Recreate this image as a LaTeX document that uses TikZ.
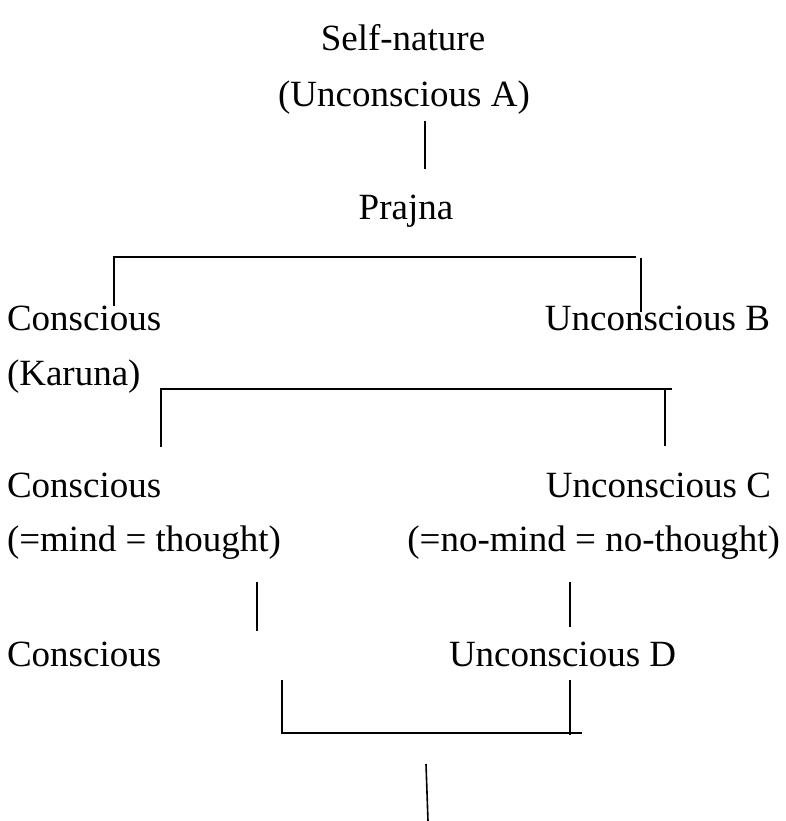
\documentclass[tikz,border=0pt]{standalone}
\usepackage{fontspec}
\setmainfont{Liberation Serif}
\begin{document}
\begin{tikzpicture}[x=1pt,y=-1pt,
  lbl/.style={inner sep=0pt,outer sep=0pt,font=\fontsize{37}{40}\selectfont},
  conn/.style={line width=1.6pt,line cap=butt}]
\useasboundingbox[fill=white] (0,0) rectangle (786,821);
% texts
\node[lbl,anchor=base] (sn) at (403,51) {Self-nature};
\node[lbl,anchor=base] (ua) at (404,107) {(Unconscious A)};
\node[lbl,anchor=base] (pr) at (406,219) {Prajna};
\node[lbl,anchor=base west] (c1) at (7,330) {Conscious};
\node[lbl,anchor=base east] (ub) at (770,330) {Unconscious B};
\node[lbl,anchor=base west] (ka) at (7,385) {(Karuna)};
\node[lbl,anchor=base west] (c2) at (7,497) {Conscious};
\node[lbl,anchor=base east] (uc) at (771,497) {Unconscious C};
\node[lbl,anchor=base west] (m1) at (7,551) {(=mind = thought)};
\node[lbl,anchor=base east] (m2) at (780,551) {(=no-mind = no-thought)};
\node[lbl,anchor=base west] (c3) at (7,666) {Conscious};
\node[lbl,anchor=base west] (ud) at (449,666) {Unconscious D};
% connector end points
\coordinate (a1) at (425,121); \coordinate (a2) at (425,169);
\coordinate (t1) at (113,257); \coordinate (t2) at (636,257);
\coordinate (tl) at (114,306); \coordinate (tr1) at (641,258); \coordinate (tr2) at (641,312);
\coordinate (s1) at (161,389); \coordinate (s2) at (672,389);
\coordinate (sl) at (161,447); \coordinate (sr1) at (665,389); \coordinate (sr2) at (665,446);
\coordinate (v1a) at (257,582); \coordinate (v1b) at (257,631);
\coordinate (v2a) at (570,582); \coordinate (v2b) at (570,627);
\coordinate (b1) at (282,680); \coordinate (b2) at (282,733); \coordinate (b3) at (582,733);
\coordinate (br1) at (570,680); \coordinate (br2) at (570,735);
\coordinate (f1) at (426,764); \coordinate (f2) at (428,821);
% connectors
\draw[conn] (a1) -- (a2);
\draw[conn] (tl) -- (t1 -| tl);
\draw[conn] (t1) -- (t2);
\draw[conn] (tr1) -- (tr2);
\draw[conn] (sl) -- (s1) -- (s2);
\draw[conn] (sr1) -- (sr2);
\draw[conn] (v1a) -- (v1b);
\draw[conn] (v2a) -- (v2b);
\draw[conn] (b1) -- (b2) -- (b3);
\draw[conn] (br1) -- (br2);
\draw[conn] (f1) -- (f2);
\end{tikzpicture}
\end{document}
